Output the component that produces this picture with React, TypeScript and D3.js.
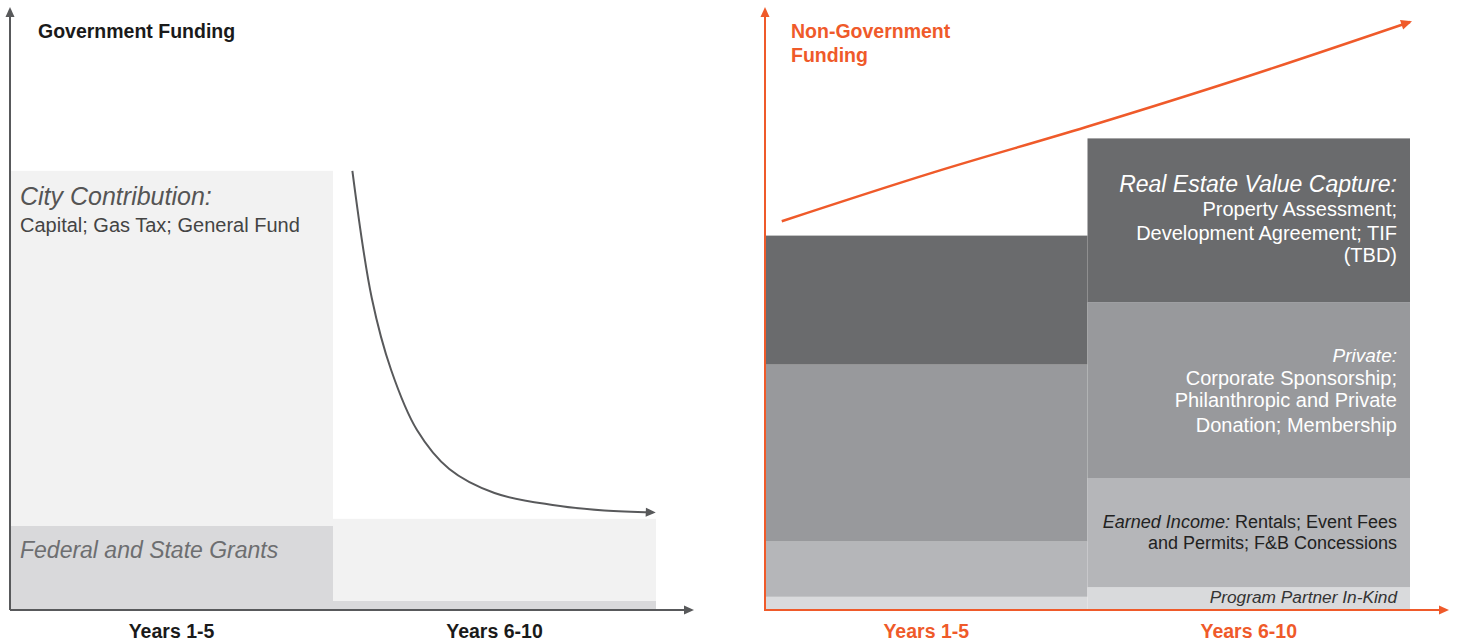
import React from "react";
import * as d3 from "d3";

const W = 1457;
const H = 642;

// categories
const periods = ["Years 1-5", "Years 6-10"];

// Government funding (relative units)
const govLayers = ["Federal and State Grants", "City Contribution"];
const govFederal = [14, 1.5];
const govCity = [59.2, 13.7];

// Non-government funding (relative units)
const nonGovLayers = ["Program Partner In-Kind", "Earned Income", "Private", "Real Estate Value Capture"];
const inKind = [2.2, 3.8];
const earned = [9.2, 18.2];
const privateF = [29.5, 29.3];
const realEstate = [21.5, 27.3];

// trend curves [year, value]
const govTrend: [number, number][] = [
  [5.3, 73.2], [5.6, 52], [5.9, 40], [6.3, 30], [6.8, 23.5], [7.5, 19.5], [8.4, 17.5], [9.2, 16.6], [9.95, 16.3],
];
const nonGovTrend: [number, number][] = [
  [0.26, 64.8], [2.6, 72.9], [4.98, 80.5], [7.5, 89.0], [10.0, 98],
];

const GREY = "#58595b";
const ORANGE = "#ef5a2a";
const FONT = "'Liberation Sans', Arial, Helvetica, sans-serif";

function stackData(layers: number[][]) {
  return periods.map((p, i) => {
    let acc = 0;
    return layers.map((l) => {
      const y0 = acc;
      acc += l[i];
      return { period: p, y0, y1: acc };
    });
  });
}

export default function App() {
  const yScale = d3.scaleLinear().domain([0, 100]).range([610, 10]);

  const xL = d3.scaleBand().domain(periods).range([10, 656]).padding(0);
  const xR = d3.scaleBand().domain(periods).range([765, 1410]).padding(0);
  const xLc = d3.scaleLinear().domain([0, 10]).range([10, 656]);
  const xRc = d3.scaleLinear().domain([0, 10]).range([765, 1410]);

  const govStack = stackData([govFederal, govCity]);
  const nonGovStack = stackData([inKind, earned, privateF, realEstate]);

  const govColors = ["#d9d9db", "#f2f2f2"];
  const nonGovColors = ["#d9dadc", "#b5b6b9", "#98999c", "#6a6b6d"];

  const govLine = d3
    .line<[number, number]>()
    .x((d) => xLc(d[0]))
    .y((d) => yScale(d[1]))
    .curve(d3.curveCatmullRom.alpha(0.5));

  const ngLine = d3
    .line<[number, number]>()
    .x((d) => xRc(d[0]))
    .y((d) => yScale(d[1]))
    .curve(d3.curveMonotoneX);

  const arrowHead = (x: number, y: number, angle: number, color: string, size = 9) => {
    const w = size * 0.45;
    const pts = [
      [0, 0],
      [-size, -w],
      [-size, w],
    ]
      .map(([px, py]) => {
        const c = Math.cos(angle), s = Math.sin(angle);
        return `${x + px * c - py * s},${y + px * s + py * c}`;
      })
      .join(" ");
    return <polygon points={pts} fill={color} />;
  };

  const lastGov = govTrend[govTrend.length - 1];
  const prevGov = govTrend[govTrend.length - 2];
  const gEnd = [xLc(lastGov[0]), yScale(lastGov[1])];
  const gPrev = [xLc(prevGov[0]), yScale(prevGov[1])];
  const gAng = Math.atan2(gEnd[1] - gPrev[1], gEnd[0] - gPrev[0]);

  const nl = nonGovTrend.length;
  const nEnd = [xRc(nonGovTrend[nl - 1][0]), yScale(nonGovTrend[nl - 1][1])];
  const nPrev = [xRc(nonGovTrend[nl - 2][0]), yScale(nonGovTrend[nl - 2][1])];
  const nAng = Math.atan2(nEnd[1] - nPrev[1], nEnd[0] - nPrev[0]);

  const r2 = xR.range()[1] - 13;

  return (
    <div style={{ position: "absolute", left: 0, top: 0 }}>
      <svg width={W} height={H} style={{ display: "block", fontFamily: FONT }}>
        <rect width={W} height={H} fill="#fff" />

        {/* Government bars */}
        {govStack.map((segs, i) =>
          segs.map((s, j) => (
            <rect
              key={`g${i}${j}`}
              x={xL(periods[i])}
              width={xL.bandwidth()}
              y={yScale(s.y1)}
              height={yScale(s.y0) - yScale(s.y1)}
              fill={govColors[j]}
            />
          ))
        )}

        {/* Non-government bars */}
        {nonGovStack.map((segs, i) =>
          segs.map((s, j) => (
            <rect
              key={`n${i}${j}`}
              x={xR(periods[i])}
              width={xR.bandwidth()}
              y={yScale(s.y1)}
              height={yScale(s.y0) - yScale(s.y1)}
              fill={nonGovColors[j]}
            />
          ))
        )}

        {/* Gov trend curve */}
        <path d={govLine(govTrend) || ""} fill="none" stroke={GREY} strokeWidth={2} />
        {arrowHead(gEnd[0] + 3, gEnd[1] + 0.3, gAng, GREY, 10)}

        {/* Non-gov trend line */}
        <path d={ngLine(nonGovTrend) || ""} fill="none" stroke={ORANGE} strokeWidth={2.5} />
        {arrowHead(nEnd[0] + 2, nEnd[1] - 0.7, nAng, ORANGE, 11)}

        {/* Left axes */}
        <line x1={10} y1={610} x2={10} y2={14} stroke={GREY} strokeWidth={2} />
        {arrowHead(10, 7, -Math.PI / 2, GREY, 10)}
        <line x1={10} y1={610} x2={688} y2={610} stroke={GREY} strokeWidth={2} />
        {arrowHead(694, 610, 0, GREY, 10)}

        {/* Right axes */}
        <line x1={765} y1={611} x2={765} y2={14} stroke={ORANGE} strokeWidth={2} />
        {arrowHead(765, 7, -Math.PI / 2, ORANGE, 10)}
        <line x1={765} y1={610} x2={1443} y2={610} stroke={ORANGE} strokeWidth={2} />
        {arrowHead(1449, 610, 0, ORANGE, 10)}

        {/* Titles */}
        <text x={38} y={38} fontSize={19.5} fontWeight="bold" fill="#1a1a1a">
          Government Funding
        </text>
        <text x={791} y={38} fontSize={19.5} fontWeight="bold" fill={ORANGE}>
          Non-Government
        </text>
        <text x={791} y={62} fontSize={19.5} fontWeight="bold" fill={ORANGE}>
          Funding
        </text>

        {/* Gov labels */}
        <text x={20} y={205} fontSize={25} fontStyle="italic" fill="#555">
          City Contribution:
        </text>
        <text x={20} y={232} fontSize={20} fill="#444">
          Capital; Gas Tax; General Fund
        </text>
        <text x={20} y={558} fontSize={23} fontStyle="italic" fill="#6d6e70">
          {govLayers[0]}
        </text>

        {/* Non-gov labels */}
        <g textAnchor="end" fill="#fff">
          <text x={r2} y={192} fontSize={23} fontStyle="italic">
            Real Estate Value Capture:
          </text>
          <text x={r2} y={216} fontSize={20}>Property Assessment;</text>
          <text x={r2} y={240} fontSize={20}>Development Agreement; TIF</text>
          <text x={r2} y={262} fontSize={20}>(TBD)</text>

          <text x={r2} y={362} fontSize={19} fontStyle="italic">Private:</text>
          <text x={r2} y={385} fontSize={20}>Corporate Sponsorship;</text>
          <text x={r2} y={407} fontSize={20}>Philanthropic and Private</text>
          <text x={r2} y={432} fontSize={20}>Donation; Membership</text>
        </g>
        <g textAnchor="end" fill="#222">
          <text x={r2} y={528} fontSize={18}>
            <tspan fontStyle="italic">Earned Income:</tspan> Rentals; Event Fees
          </text>
          <text x={r2} y={549} fontSize={18}>and Permits; F&amp;B Concessions</text>
          <text x={r2} y={603} fontSize={17.3} fontStyle="italic" fill="#333">
            {nonGovLayers[0]}
          </text>
        </g>

        {/* X labels */}
        {periods.map((p) => (
          <text
            key={`lx${p}`}
            x={(xL(p) as number) + xL.bandwidth() / 2}
            y={638}
            fontSize={19.5}
            fontWeight="bold"
            textAnchor="middle"
            fill="#1a1a1a"
          >
            {p}
          </text>
        ))}
        {periods.map((p) => (
          <text
            key={`rx${p}`}
            x={(xR(p) as number) + xR.bandwidth() / 2}
            y={638}
            fontSize={19.5}
            fontWeight="bold"
            textAnchor="middle"
            fill={ORANGE}
          >
            {p}
          </text>
        ))}
      </svg>
    </div>
  );
}
